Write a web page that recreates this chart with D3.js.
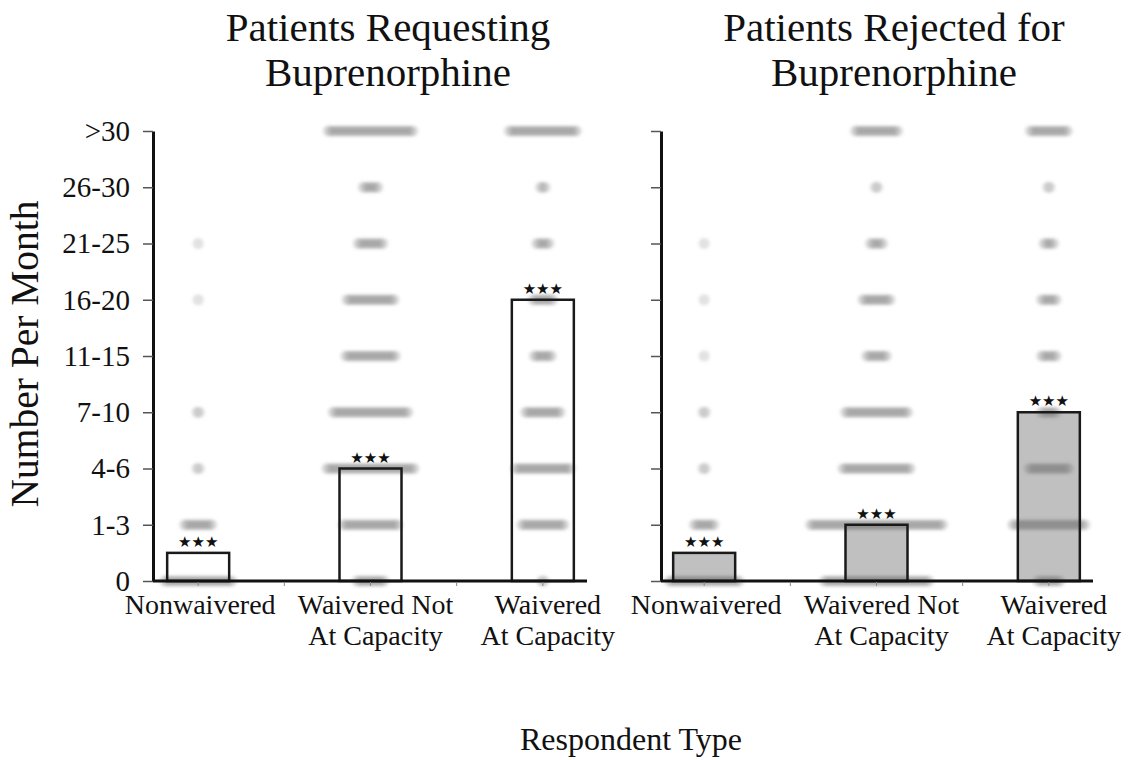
<!DOCTYPE html>
<html>
<head>
<meta charset="utf-8">
<script src="https://cdn.jsdelivr.net/npm/d3@7"></script>
<style>
  body { margin: 0; background: #fff; }
  text { font-family: "Liberation Serif", "Times New Roman", serif; fill: #111; }
</style>
</head>
<body>
<div id="chart"></div>
<script>
// data
var levels = ["0", "1-3", "4-6", "7-10", "11-15", "16-20", "21-25", "26-30", ">30"];
var categories = ["Nonwaivered", "Waivered Not At Capacity", "Waivered At Capacity"];
var categoryLines = [["Nonwaivered"], ["Waivered Not", "At Capacity"], ["Waivered", "At Capacity"]];

// bar heights (mean response, on the level index scale)
var requestMeans = [0.5, 2.0, 5.0];
var rejectMeans = [0.5, 1.0, 3.0];

// respondents per level (0 .. >30), one row per category
var requestCounts = [
  [28, 12, 2, 2, 0, 1, 1, 0, 0],
  [12, 23, 36, 31, 21, 20, 11, 7, 35],
  [2, 18, 23, 15, 8, 9, 6, 3, 28]
];
var rejectCounts = [
  [29, 9, 2, 2, 1, 1, 1, 0, 0],
  [43, 54, 28, 26, 9, 12, 6, 2, 18],
  [10, 30, 17, 7, 7, 7, 5, 2, 16]
];

var titles = [["Patients Requesting", "Buprenorphine"], ["Patients Rejected for", "Buprenorphine"]];

// svg set up
var svgWidth = 1141;
var svgHeight = 760;

var svg = d3.select("#chart")
  .append("svg")
  .attr("width", svgWidth)
  .attr("height", svgHeight);

// blur for the dot rows
svg.append("defs").append("filter")
  .attr("id", "soft")
  .attr("x", "-20%").attr("y", "-50%")
  .attr("width", "140%").attr("height", "200%")
  .append("feGaussianBlur")
  .attr("stdDeviation", 1.6);

var yScale = d3.scaleLinear()
  .domain([0, 8])
  .range([581, 131]);

var panels = [
  { start: 112, axisX: 153, axisEnd: 587, means: requestMeans, counts: requestCounts, fill: "#fff", title: titles[0], labels: true },
  { start: 618, axisX: 661, axisEnd: 1093, means: rejectMeans, counts: rejectCounts, fill: "#c0c0c0", title: titles[1], labels: false }
];

var dotStep = 2.5;
var barWidth = 62;

panels.forEach(function(p) {
  var xScale = d3.scaleBand()
    .domain(categories)
    .range([p.start, p.start + 517]);

  var g = svg.append("g");

  // titles
  g.append("text")
    .attr("text-anchor", "middle")
    .style("font-size", "41px")
    .selectAll("tspan")
    .data(p.title)
    .enter()
    .append("tspan")
    .attr("x", p.start + 276)
    .attr("y", (d, i) => 41 + i * 45)
    .text(d => d);

  // bar fills
  g.selectAll(".barFill")
    .data(categories)
    .enter()
    .append("rect")
    .attr("x", d => xScale(d) + xScale.bandwidth() / 2 - barWidth / 2)
    .attr("width", barWidth)
    .attr("y", (d, i) => yScale(p.means[i]))
    .attr("height", (d, i) => yScale(0) - yScale(p.means[i]))
    .attr("fill", p.fill);

  // dot rows
  var dots = [];
  categories.forEach(function(c, ci) {
    p.counts[ci].forEach(function(n, level) {
      for (var k = 0; k < n; k++) {
        dots.push({ cat: c, level: level, offset: (k - (n - 1) / 2) * dotStep });
      }
    });
  });

  g.append("g")
    .attr("filter", "url(#soft)")
    .selectAll("circle")
    .data(dots)
    .enter()
    .append("circle")
    .attr("cx", d => xScale(d.cat) + xScale.bandwidth() / 2 + d.offset)
    .attr("cy", d => yScale(d.level))
    .attr("r", 5.5)
    .attr("fill", "#6e6e6e")
    .attr("fill-opacity", 0.2);

  // bar outlines
  g.selectAll(".barLine")
    .data(categories)
    .enter()
    .append("rect")
    .attr("x", d => xScale(d) + xScale.bandwidth() / 2 - barWidth / 2)
    .attr("width", barWidth)
    .attr("y", (d, i) => yScale(p.means[i]))
    .attr("height", (d, i) => yScale(0) - yScale(p.means[i]))
    .attr("fill", "none")
    .attr("stroke", "#1a1a1a")
    .attr("stroke-width", 2.5);

  // significance stars
  g.selectAll(".stars")
    .data(categories)
    .enter()
    .append("text")
    .attr("x", d => xScale(d) + xScale.bandwidth() / 2)
    .attr("y", (d, i) => yScale(p.means[i]) - 6)
    .attr("text-anchor", "middle")
    .style("font-family", "DejaVu Sans")
    .style("font-size", "15px")
    .text("\u2605\u2605\u2605");

  // x axis line and small ticks
  g.append("line")
    .attr("x1", p.axisX).attr("x2", p.axisEnd)
    .attr("y1", yScale(0)).attr("y2", yScale(0))
    .attr("stroke", "#111")
    .attr("stroke-width", 3);

  var tickXs = categories.map(c => xScale(c) + xScale.bandwidth() / 2)
    .concat(categories.slice(1).map(c => xScale(c)));

  g.selectAll(".xtick")
    .data(tickXs)
    .enter()
    .append("line")
    .attr("x1", d => d).attr("x2", d => d)
    .attr("y1", yScale(0) + 1).attr("y2", yScale(0) + 5)
    .attr("stroke", "#888")
    .attr("stroke-width", 1);

  // category labels
  g.selectAll(".xlabel")
    .data(categories)
    .enter()
    .append("text")
    .attr("text-anchor", "middle")
    .style("font-size", "28px")
    .each(function(d, i) {
      var cx = xScale(d) + xScale.bandwidth() / 2 + (i === 0 ? 2 : 5);
      d3.select(this).selectAll("tspan")
        .data(categoryLines[i])
        .enter()
        .append("tspan")
        .attr("x", cx)
        .attr("y", (t, j) => 614 + j * 31)
        .text(t => t);
    });

  // y axis
  var leftAxis = d3.axisLeft(yScale)
    .tickValues(d3.range(levels.length))
    .tickFormat(i => p.labels ? levels[i] : "")
    .tickSize(10)
    .tickSizeOuter(0)
    .tickPadding(13);

  var ay = g.append("g")
    .attr("transform", `translate(${p.axisX}, 0)`)
    .call(leftAxis);

  ay.attr("font-size", null).attr("font-family", null);
  ay.select(".domain")
    .attr("stroke", "#111")
    .attr("stroke-width", 3);
  ay.selectAll(".tick line")
    .attr("stroke", "#555")
    .attr("stroke-width", 1.5);
  ay.selectAll(".tick text")
    .style("font-size", "29px")
    .attr("fill", "#111");
});

// axis titles
svg.append("text")
  .attr("transform", "translate(38, 354) rotate(-90)")
  .attr("text-anchor", "middle")
  .style("font-size", "39.5px")
  .text("Number Per Month");

svg.append("text")
  .attr("x", 631)
  .attr("y", 750)
  .attr("text-anchor", "middle")
  .style("font-size", "32px")
  .text("Respondent Type");
</script>
</body>
</html>
